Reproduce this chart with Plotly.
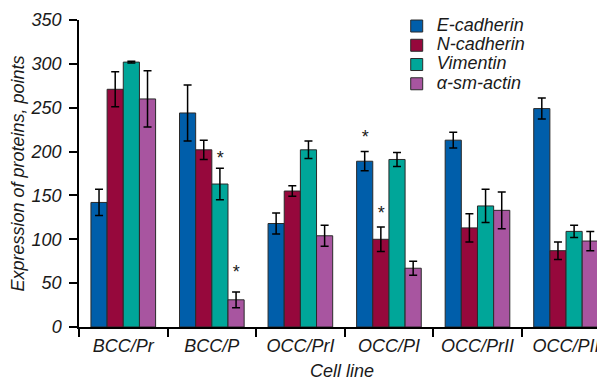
import plotly.graph_objects as go

categories = ["BCC/Pr", "BCC/P", "OCC/PrI", "OCC/PI", "OCC/PrII", "OCC/PII"]
series_names = ["E-cadherin", "N-cadherin", "Vimentin", "α-sm-actin"]

e_cadherin = [142, 244, 118, 189, 213, 249]
e_cadherin_err = [15, 32, 12, 11, 9, 12]
n_cadherin = [271, 202, 155, 100, 113, 87]
n_cadherin_err = [20, 11, 6, 14, 16, 10]
vimentin = [302, 163, 202, 191, 138, 109]
vimentin_err = [1, 18, 10, 8, 19, 7]
sm_actin = [260, 31, 104, 67, 133, 98]
sm_actin_err = [32, 9, 12, 8, 21, 11]

# significance stars: (category index, series index, y value of star centre)
star_cat = [1, 1, 3, 3]
star_series = [2, 3, 0, 1]
star_y = [196, 66, 220, 133]

colors = ["#005eaa", "#96083c", "#00a699", "#a855a0"]

values = [e_cadherin, n_cadherin, vimentin, sm_actin]
errors = [e_cadherin_err, n_cadherin_err, vimentin_err, sm_actin_err]

FONT = "Liberation Sans, Arial, sans-serif"
TXT = "#1a1a1a"
BARGAP = 0.27

fig = go.Figure()
for name, vals, errs, col in zip(series_names, values, errors, colors):
    fig.add_trace(go.Bar(
        name=f"<span style='font-size:18px'>{name}</span>",
        x=categories, y=vals,
        marker=dict(color=col, line=dict(color="#2a2a2a", width=1)),
        error_y=dict(type="data", array=errs, visible=True,
                     color="black", thickness=1.5, width=4),
    ))

bw = (1 - BARGAP) / 4
for ci, si, sy in zip(star_cat, star_series, star_y):
    fig.add_annotation(
        x=ci + (si - 1.5) * bw, y=sy, text="*", showarrow=False,
        xref="x", yref="y", yanchor="middle", yshift=-3,
        font=dict(family=FONT, size=18, color=TXT),
    )

# page body adds an 8px margin, so the figure is 8px smaller
fig.update_layout(
    width=597, height=373,
    margin=dict(l=71, r=0, t=12, b=54, autoexpand=False),
    paper_bgcolor="white", plot_bgcolor="white",
    barmode="group", bargap=BARGAP, bargroupgap=0,
    font=dict(family=FONT, size=18, color=TXT, style="italic"),
    showlegend=True,
    legend=dict(x=0.604, y=1.028, xanchor="left", yanchor="top",
                font=dict(family=FONT, size=12.5, color=TXT, style="italic"),
                bgcolor="rgba(0,0,0,0)", tracegroupgap=0),
    xaxis=dict(
        type="category", range=[-0.5, 5.44], automargin=False,
        showline=True, linecolor="black", linewidth=1.5,
        ticks="outside", tickson="boundaries", ticklen=8, tickwidth=1.5,
        tickcolor="black", showgrid=False, ticklabelstandoff=2,
        tickfont=dict(family=FONT, size=18, color=TXT, style="italic"),
        title=dict(text="Cell line", standoff=10,
                   font=dict(family=FONT, size=18, color=TXT, style="italic")),
    ),
    yaxis=dict(
        range=[0, 350], dtick=50, automargin=False,
        showline=True, linecolor="black", linewidth=1.5,
        ticks="outside", ticklen=8, tickwidth=1.5, tickcolor="black",
        showgrid=False, zeroline=False, ticklabelstandoff=4,
        tickfont=dict(family=FONT, size=18, color=TXT, style="italic"),
        title=dict(text="Expression of proteins, points", standoff=2,
                   font=dict(family=FONT, size=18, color=TXT, style="italic")),
    ),
)

fig.write_html("out.html")
